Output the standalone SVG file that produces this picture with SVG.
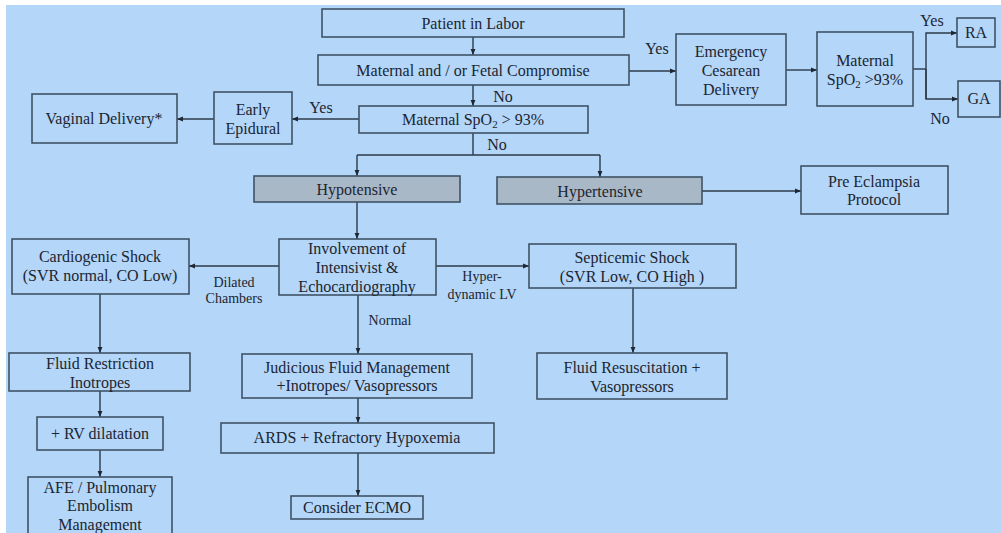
<svg xmlns="http://www.w3.org/2000/svg" width="1001" height="533" viewBox="0 0 1001 533">
<defs>
<marker id="ah" viewBox="0 0 10 10" refX="10" refY="5" markerWidth="6" markerHeight="6" markerUnits="userSpaceOnUse" orient="auto">
<path d="M0,1 L10,5 L0,9 z" fill="#1f2733"/>
</marker>
<style>
.box{fill:none;stroke:#3f5366;stroke-width:1.6}
.grey{fill:#a9b8c6;stroke:#3f5366;stroke-width:1.6}
.t{font-size:16px;fill:#1c2530;text-anchor:middle}
.s{font-size:14px;fill:#1c2530;text-anchor:middle}
.c{fill:none;stroke:#2c3a48;stroke-width:1.4}
.a{fill:none;stroke:#2c3a48;stroke-width:1.4;marker-end:url(#ah)}
</style>
</defs>
<rect x="0" y="0" width="1001" height="533" fill="#ffffff"/>
<rect x="6" y="5" width="995" height="528" fill="#b3d6f9"/>
<g font-family="'Liberation Serif', 'DejaVu Serif', serif">
<g id="connectors">
<path class="a" d="M473,37 V55"/>
<path class="a" d="M629,71 H676"/>
<path class="a" d="M473,85 V106"/>
<path class="a" d="M359,119 H292"/>
<path class="a" d="M214,119 H177"/>
<path class="c" d="M473,133 V155"/>
<path class="a" d="M357,155 H600 M357,155 V176"/>
<path class="a" d="M600,155 V177"/>
<path class="a" d="M702,191 H801"/>
<path class="a" d="M357,202 V239"/>
<path class="a" d="M436,266 H529"/>
<path class="a" d="M279,266 H189"/>
<path class="a" d="M100,294 V353"/>
<path class="a" d="M100,391 V417"/>
<path class="a" d="M100,450 V477"/>
<path class="a" d="M358,295 V354"/>
<path class="a" d="M358,398 V423"/>
<path class="a" d="M358,453 V496"/>
<path class="a" d="M633,288 V353"/>
<path class="a" d="M786,70 H817"/>
<path class="c" d="M913,69 H926"/>
<path class="a" d="M926,99 V33 H957"/>
<path class="a" d="M926,69 V99 H958"/>
<text class="t" x="657" y="54">Yes</text>
<text class="t" x="503" y="102">No</text>
<text class="t" x="321" y="113">Yes</text>
<text class="t" x="497" y="150">No</text>
<text class="t" x="932" y="26">Yes</text>
<text class="t" x="940" y="124">No</text>
<text class="s" x="482" y="281">Hyper-</text>
<text class="s" x="482" y="299">dynamic LV</text>
<text class="s" x="234" y="287">Dilated</text>
<text class="s" x="234" y="303">Chambers</text>
<text class="s" x="390" y="325">Normal</text>
</g>

<g id="patient"><rect class="box" x="322" y="9" width="302" height="28"/><text class="t" x="473" y="29">Patient in Labor</text></g>
<g id="compromise"><rect class="box" x="318" y="55" width="311" height="30"/><text class="t" x="473" y="76">Maternal  and / or Fetal Compromise</text></g>
<g id="spo2"><rect class="box" x="359" y="106" width="229" height="27"/><text class="t" x="473" y="125">Maternal  SpO<tspan font-size="11" dy="3">2</tspan><tspan dy="-3"> &gt; 93%</tspan></text></g>
<g id="epidural"><rect class="box" x="214" y="92" width="78" height="52"/><text class="t" x="253" y="115">Early</text><text class="t" x="253" y="134">Epidural</text></g>
<g id="vaginal"><rect class="box" x="32" y="94" width="145" height="49"/><text class="t" x="104" y="124">Vaginal  Delivery*</text></g>
<g id="cesarean"><rect class="box" x="676" y="34" width="110" height="71"/><text class="t" x="731" y="57">Emergency</text><text class="t" x="731" y="76">Cesarean</text><text class="t" x="731" y="95">Delivery</text></g>
<g id="spo2b"><rect class="box" x="817" y="32" width="96" height="74"/><text class="t" x="865" y="66">Maternal</text><text class="t" x="865" y="85">SpO<tspan font-size="11" dy="3">2</tspan><tspan dy="-3"> &gt;93%</tspan></text></g>
<g id="ra"><rect class="box" x="957" y="18" width="38" height="29"/><text class="t" x="976" y="38">RA</text></g>
<g id="ga"><rect class="box" x="958" y="81" width="42" height="36"/><text class="t" x="979" y="104">GA</text></g>
<g id="hypotensive"><rect class="grey" x="254" y="176" width="206" height="26"/><text class="t" x="357" y="195">Hypotensive</text></g>
<g id="hypertensive"><rect class="grey" x="497" y="177" width="205" height="27"/><text class="t" x="600" y="197">Hypertensive</text></g>
<g id="preeclampsia"><rect class="box" x="801" y="166" width="147" height="48"/><text class="t" x="874" y="187">Pre Eclampsia</text><text class="t" x="874" y="205">Protocol</text></g>
<g id="involvement"><rect class="box" x="279" y="239" width="157" height="56"/><text class="t" x="357" y="254">Involvement  of</text><text class="t" x="357" y="273">Intensivist  &amp;</text><text class="t" x="357" y="292">Echocardiography</text></g>
<g id="septicemic"><rect class="box" x="529" y="244" width="207" height="44"/><text class="t" x="632" y="263">Septicemic  Shock</text><text class="t" x="632" y="282">(SVR Low, CO High )</text></g>
<g id="cardiogenic"><rect class="box" x="12" y="239" width="177" height="55"/><text class="t" x="100" y="262">Cardiogenic  Shock</text><text class="t" x="100" y="281">(SVR normal, CO Low)</text></g>
<g id="restriction"><rect class="box" x="9" y="353" width="181" height="38"/><text class="t" x="100" y="369">Fluid Restriction</text><text class="t" x="100" y="388">Inotropes</text></g>
<g id="rv"><rect class="box" x="37" y="417" width="126" height="33"/><text class="t" x="100" y="439">+ RV dilatation</text></g>
<g id="afe"><rect class="box" x="28" y="477" width="144" height="60"/><text class="t" x="100" y="493">AFE / Pulmonary</text><text class="t" x="100" y="511">Embolism</text><text class="t" x="100" y="530">Management</text></g>
<g id="judicious"><rect class="box" x="242" y="354" width="230" height="44"/><text class="t" x="357" y="373">Judicious Fluid Management</text><text class="t" x="357" y="391">+Inotropes/  Vasopressors</text></g>
<g id="ards"><rect class="box" x="221" y="423" width="273" height="30"/><text class="t" x="357" y="443">ARDS  + Refractory   Hypoxemia</text></g>
<g id="ecmo"><rect class="box" x="291" y="496" width="132" height="23"/><text class="t" x="357" y="513">Consider ECMO</text></g>
<g id="resuscitation"><rect class="box" x="537" y="353" width="190" height="46"/><text class="t" x="632" y="373">Fluid Resuscitation  +</text><text class="t" x="632" y="392">Vasopressors</text></g>
</g>
</svg>
